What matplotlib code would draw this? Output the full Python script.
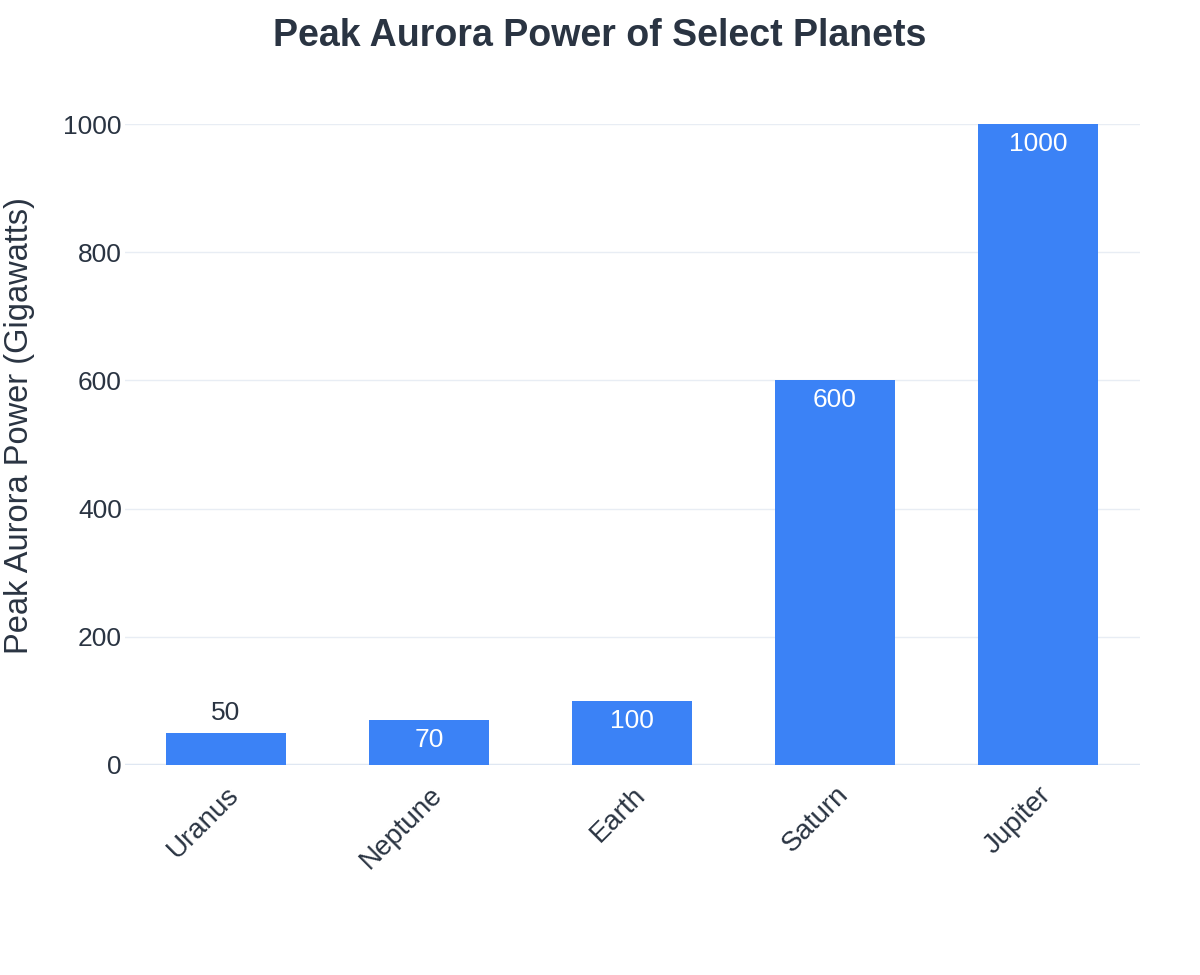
import matplotlib.pyplot as plt

plt.rcParams["font.family"] = ["Liberation Sans", "DejaVu Sans"]

# Data
planets = ["Uranus", "Neptune", "Earth", "Saturn", "Jupiter"]
power_gw = [50, 70, 100, 600, 1000]

TEXT = "#2a3442"
BAR = "#3b82f6"
GRID = "#e8edf4"


def main():
    fig = plt.figure(figsize=(12, 9.75), dpi=100)
    ax = fig.add_axes([0.1038, 0.2154, 0.8458, 0.6574])

    x = list(range(len(planets)))
    bars = ax.bar(x, power_gw, width=0.59, color=BAR, zorder=2)

    ax.set_xlim(-0.5, len(planets) - 0.5)
    ax.set_ylim(0, 1000)
    ax.set_yticks([0, 200, 400, 600, 800, 1000])
    ax.grid(axis="y", color=GRID, linewidth=1, zorder=0)
    ax.axhline(0, color="#dde6f2", linewidth=2.5, zorder=1)
    for s in ax.spines.values():
        s.set_visible(False)
    ax.tick_params(axis="both", length=0, labelsize=19, colors=TEXT)
    ax.tick_params(axis="y", pad=2)
    ax.set_xticks(x)
    ax.set_xticklabels(planets, rotation=45, ha="right", va="top",
                       rotation_mode="anchor", fontsize=20)
    ax.tick_params(axis="x", pad=12)

    # value labels: inside near the top if they fit, else above
    for b, v in zip(bars, power_gw):
        cx = b.get_x() + b.get_width() / 2
        if v >= 70:
            ax.annotate(str(v), (cx, v), xytext=(0, -20), textcoords="offset pixels",
                        ha="center", va="center", fontsize=19, color="white")
        else:
            ax.annotate(str(v), (cx, v), xytext=(0, 20), textcoords="offset pixels",
                        ha="center", va="center", fontsize=19, color=TEXT)

    ax.set_ylabel("Peak Aurora Power (Gigawatts)", fontsize=23.5, color=TEXT)
    ax.yaxis.set_label_coords(-0.088, 0.529)

    fig.suptitle("Peak Aurora Power of Select Planets", fontsize=27,
                 fontweight="bold", color=TEXT, x=0.5, y=0.982)

    fig.savefig("out.png", dpi=100, facecolor="white")


if __name__ == "__main__":
    main()
